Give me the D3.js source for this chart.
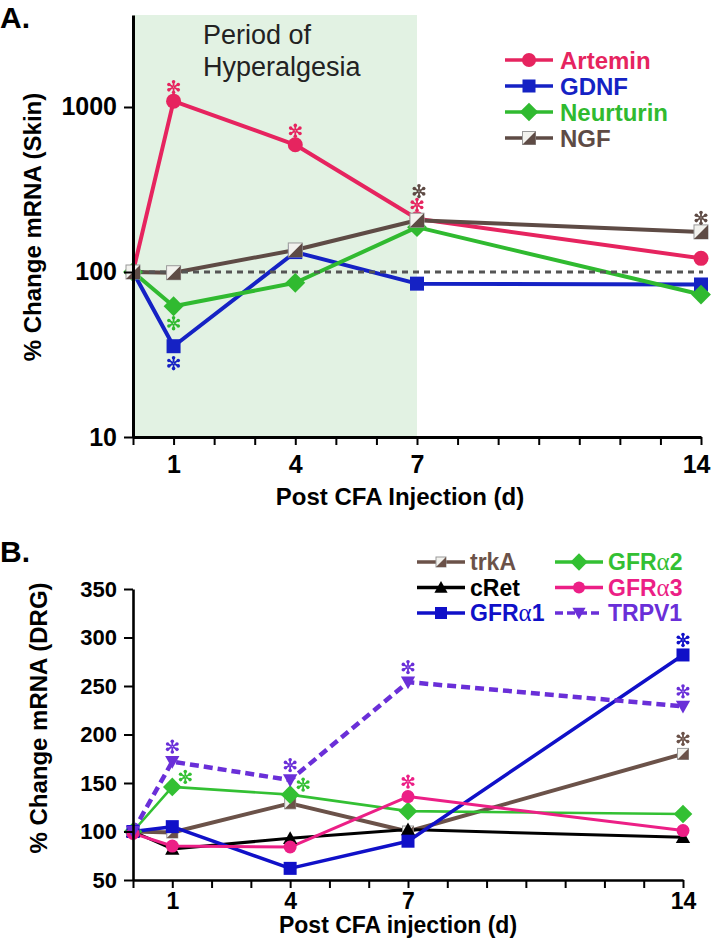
<!DOCTYPE html>
<html>
<head>
<meta charset="utf-8">
<script src="https://cdn.jsdelivr.net/npm/d3@7"></script>
<style>
  html, body { margin: 0; padding: 0; background: #fff; }
  svg { display: block; font-family: "Liberation Sans", Arial, Helvetica, sans-serif; }
</style>
</head>
<body>
<svg id="chart" width="714" height="939"></svg>
<script>
// ---------------- DATA ----------------
const days = [0, 1, 4, 7, 14];
const dayTicks = [0,1,2,3,4,5,6,7,8,9,10,11,12,13,14];
const dayLabels = [1, 4, 7, 14];

// Panel A: % change mRNA (skin), log scale
const artemin   = [100, 1085, 590, 210, 121];
const gdnf      = [100, 35.5, 132, 85, 84];
const neurturin = [100, 62, 86, 187, 73];
const ngf       = [100, 99, 136, 206, 175];
const yTicksA   = [10, 100, 1000];

// Panel B: % change mRNA (DRG)
const trkA  = [100, 99, 129, 100, 180];
const cRet  = [100, 82, 93, 102, 94];
const gfra1 = [100, 105, 62, 90, 282];
const gfra2 = [100, 146, 138, 121, 118];
const gfra3 = [98, 85, 84, 136, 101];
const trpv1 = [100, 172, 153, 254, 229];
const yTicksB = [50, 100, 150, 200, 250, 300, 350];

// Significance markers: [series, day, side]
const sigA = [
  ["Artemin", 1, "above"], ["Artemin", 4, "above"], ["Artemin", 7, "above"],
  ["NGF", 7, "above2"], ["NGF", 14, "above"],
  ["Neurturin", 1, "below"], ["GDNF", 1, "below"]
];
const sigB = [
  ["TRPV1", 1, "above"], ["TRPV1", 4, "above"], ["TRPV1", 7, "above"], ["TRPV1", 14, "above"],
  ["GFRα2", 1, "right"], ["GFRα2", 4, "right"],
  ["GFRα3", 7, "above"], ["GFRα1", 14, "above"], ["trkA", 14, "above"]
];

// ---------------- SETUP ----------------
const svg = d3.select("#chart");
const FONT = '"Liberation Sans", Arial, Helvetica, sans-serif';

const seriesA = [
  { name: "Artemin",   values: artemin,   color: "#e6245f", shape: "circle",  width: 4 },
  { name: "GDNF",      values: gdnf,      color: "#1522c4", shape: "square",  width: 4 },
  { name: "Neurturin", values: neurturin, color: "#30ba30", shape: "diamond", width: 4 },
  { name: "NGF",       values: ngf,       color: "#5e4b45", shape: "half",    width: 4 }
];
const seriesB = [
  { name: "trkA",  values: trkA,  color: "#6b5249", shape: "half",     width: 4 },
  { name: "cRet",  values: cRet,  color: "#000000", shape: "triangle", width: 3 },
  { name: "GFRα2", values: gfra2, color: "#33c033", shape: "diamond",  width: 2.6 },
  { name: "GFRα1", values: gfra1, color: "#1010c8", shape: "square",   width: 3.5 },
  { name: "GFRα3", values: gfra3, color: "#ec1f86", shape: "circle",   width: 3 },
  { name: "TRPV1", values: trpv1, color: "#6a2fd8", shape: "tridown",  width: 4.5, dash: "9,5" }
];

function drawMarker(g, shape, cx, cy, s, color) {
  if (shape === "circle") {
    g.append("circle").attr("cx", cx).attr("cy", cy).attr("r", s / 2).attr("fill", color);
  } else if (shape === "square") {
    g.append("rect").attr("x", cx - s / 2).attr("y", cy - s / 2).attr("width", s).attr("height", s).attr("fill", color);
  } else if (shape === "diamond") {
    const h = s * 0.62;
    g.append("path").attr("d", `M${cx},${cy - h}L${cx + h},${cy}L${cx},${cy + h}L${cx - h},${cy}Z`).attr("fill", color);
  } else if (shape === "triangle") {
    const h = s * 0.55;
    g.append("path").attr("d", `M${cx},${cy - h}L${cx + h},${cy + h * 0.8}L${cx - h},${cy + h * 0.8}Z`).attr("fill", color);
  } else if (shape === "tridown") {
    const h = s * 0.55;
    g.append("path").attr("d", `M${cx - h},${cy - h * 0.8}L${cx + h},${cy - h * 0.8}L${cx},${cy + h}Z`).attr("fill", color);
  } else if (shape === "half") {
    const h = s / 2;
    g.append("rect").attr("x", cx - h).attr("y", cy - h).attr("width", s).attr("height", s)
      .attr("fill", "#f2f2ee").attr("stroke", "#9a9a9a").attr("stroke-width", 1);
    g.append("path").attr("d", `M${cx + h},${cy - h}L${cx + h},${cy + h}L${cx - h},${cy + h}Z`).attr("fill", color);
  }
}

function drawAsterisk(g, cx, cy, color) {
  const r = 7.2, r0 = 1.3;
  [90, 30, 150].forEach(a => {
    const rad = a * Math.PI / 180;
    [1, -1].forEach(sgn => {
      const dx = Math.cos(rad) * sgn, dy = -Math.sin(rad) * sgn;
      g.append("line")
        .attr("x1", cx + dx * r0).attr("y1", cy + dy * r0)
        .attr("x2", cx + dx * (r - 1.8)).attr("y2", cy + dy * (r - 1.8))
        .attr("stroke", color).attr("stroke-width", 1.8).attr("stroke-linecap", "round");
      g.append("circle").attr("cx", cx + dx * (r - 1.8)).attr("cy", cy + dy * (r - 1.8))
        .attr("r", 1.8).attr("fill", color);
    });
  });
}

function styleAxis(g, domainWidth, fontSize) {
  g.select(".domain").attr("stroke", "#000").attr("stroke-width", domainWidth);
  g.selectAll(".tick line").attr("stroke", "#000").attr("stroke-width", 2);
  g.selectAll(".tick text").attr("fill", "#000").attr("font-size", fontSize)
    .attr("font-weight", "bold").attr("font-family", FONT);
}

// ================= PANEL A =================
const xA = d3.scaleLinear().domain([0, 14]).range([133, 701]);
const yA = d3.scaleLog().domain([10, 3610]).range([437, 15]);

svg.append("rect")
  .attr("x", xA(0)).attr("y", yA(3610))
  .attr("width", xA(7) - xA(0)).attr("height", yA(10) - yA(3610))
  .attr("fill", "#e2f2e3");

svg.append("text").attr("x", 203).attr("y", 44).attr("font-size", 27).attr("fill", "#222")
  .attr("font-family", FONT).text("Period of");
svg.append("text").attr("x", 203).attr("y", 76).attr("font-size", 27).attr("fill", "#222")
  .attr("font-family", FONT).text("Hyperalgesia");

const gLinesA = svg.append("g");
const lineA = d3.line().x((d, i) => xA(days[i])).y(d => yA(d));
seriesA.forEach(s => {
  gLinesA.append("path").datum(s.values).attr("d", lineA)
    .attr("fill", "none").attr("stroke", s.color).attr("stroke-width", s.width)
    .attr("stroke-linejoin", "round");
});

// reference line at 100%
svg.append("line")
  .attr("x1", xA(0) - 6).attr("x2", xA(14) + 2)
  .attr("y1", yA(100)).attr("y2", yA(100))
  .attr("stroke", "#555").attr("stroke-width", 3).attr("stroke-dasharray", "6,5");

const gMarkA = svg.append("g");
const sizeA = { circle: 15, square: 14, diamond: 16, half: 14 };
seriesA.forEach(s => {
  s.values.forEach((v, i) => drawMarker(gMarkA, s.shape, xA(days[i]), yA(v), sizeA[s.shape], s.color));
});

const gSigA = svg.append("g");
sigA.forEach(([name, day, side]) => {
  const s = seriesA.find(t => t.name === name);
  const i = days.indexOf(day);
  const cx = xA(day), cy = yA(s.values[i]);
  const dy = side === "above" ? -14 : side === "above2" ? -29 : 17;
  drawAsterisk(gSigA, cx + (side === "above2" ? 2 : 0), cy + dy, s.color);
});

// axes A
const axA_x = svg.append("g").attr("transform", `translate(0,${yA(10)})`)
  .call(d3.axisBottom(xA).tickValues(dayTicks).tickSize(8).tickSizeOuter(0).tickPadding(10)
    .tickFormat(d => dayLabels.includes(d) ? d : ""));
styleAxis(axA_x, 3, 25);
axA_x.selectAll(".tick text").filter(d => d === 14).attr("text-anchor", "end").attr("dx", "0.36em");
const axA_y = svg.append("g").attr("transform", `translate(${xA(0)},0)`)
  .call(d3.axisLeft(yA).tickValues(yTicksA).tickSize(9).tickSizeOuter(0).tickPadding(7)
    .tickFormat(d3.format("d")));
styleAxis(axA_y, 3, 25);

svg.append("text").attr("x", 400).attr("y", 505).attr("text-anchor", "middle")
  .attr("font-size", 24).attr("font-weight", "bold").attr("font-family", FONT)
  .text("Post CFA Injection (d)");
svg.append("text").attr("transform", "translate(41,227) rotate(-90)").attr("text-anchor", "middle")
  .attr("font-size", 24).attr("font-weight", "bold").attr("font-family", FONT)
  .text("% Change mRNA (Skin)");
svg.append("text").attr("x", 0).attr("y", 28).attr("font-size", 30).attr("font-weight", "bold")
  .attr("font-family", FONT).text("A.");

// legend A
const legA = svg.append("g");
seriesA.forEach((s, k) => {
  const y = 60 + k * 26;
  legA.append("line").attr("x1", 505).attr("x2", 553).attr("y1", y).attr("y2", y)
    .attr("stroke", s.color).attr("stroke-width", 3.5);
  drawMarker(legA, s.shape, 529, y, sizeA[s.shape] - 1, s.color);
  legA.append("text").attr("x", 560).attr("y", y).attr("dy", "0.36em")
    .attr("font-size", 24).attr("font-weight", "bold").attr("font-family", FONT)
    .attr("fill", s.color).text(s.name);
});

// ================= PANEL B =================
const xB = d3.scaleLinear().domain([0, 14]).range([133, 683]);
const yB = d3.scaleLinear().domain([50, 350]).range([880, 589]);

const lineB = d3.line().x((d, i) => xB(days[i])).y(d => yB(d));
const gLinesB = svg.append("g");
seriesB.forEach(s => {
  gLinesB.append("path").datum(s.values).attr("d", lineB)
    .attr("fill", "none").attr("stroke", s.color).attr("stroke-width", s.width)
    .attr("stroke-linejoin", "round")
    .attr("stroke-dasharray", s.dash || null);
});
const gMarkB = svg.append("g");
const sizeB = { circle: 13, square: 13, diamond: 15, half: 11, triangle: 13, tridown: 13 };
seriesB.forEach(s => {
  s.values.forEach((v, i) => drawMarker(gMarkB, s.shape, xB(days[i]), yB(v), sizeB[s.shape], s.color));
});

const gSigB = svg.append("g");
sigB.forEach(([name, day, side]) => {
  const s = seriesB.find(t => t.name === name);
  const i = days.indexOf(day);
  const cx = xB(day), cy = yB(s.values[i]);
  if (side === "right") drawAsterisk(gSigB, cx + 13, cy - 10, s.color);
  else drawAsterisk(gSigB, cx, cy - 15, s.color);
});

const axB_x = svg.append("g").attr("transform", `translate(0,${yB(50)})`)
  .call(d3.axisBottom(xB).tickValues(dayTicks).tickSize(8).tickSizeOuter(0).tickPadding(5)
    .tickFormat(d => dayLabels.includes(d) ? d : ""));
styleAxis(axB_x, 2.6, 23);
const axB_y = svg.append("g").attr("transform", `translate(${xB(0)},0)`)
  .call(d3.axisLeft(yB).tickValues(yTicksB).tickSize(9).tickSizeOuter(0).tickPadding(7));
styleAxis(axB_y, 2.6, 22);

svg.append("text").attr("x", 398).attr("y", 933).attr("text-anchor", "middle")
  .attr("font-size", 23).attr("font-weight", "bold").attr("font-family", FONT)
  .text("Post CFA injection (d)");
svg.append("text").attr("transform", "translate(47,718) rotate(-90)").attr("text-anchor", "middle")
  .attr("font-size", 24).attr("font-weight", "bold").attr("font-family", FONT)
  .text("% Change mRNA (DRG)");
svg.append("text").attr("x", 0).attr("y", 562).attr("font-size", 30).attr("font-weight", "bold")
  .attr("font-family", FONT).text("B.");

// legend B (two columns)
const legOrder = [["trkA", 0, 0], ["cRet", 0, 1], ["GFRα1", 0, 2], ["GFRα2", 1, 0], ["GFRα3", 1, 1], ["TRPV1", 1, 2]];
const legB = svg.append("g");
legOrder.forEach(([name, col, row]) => {
  const s = seriesB.find(t => t.name === name);
  const x0 = col === 0 ? 417 : 555;
  const y = 562 + row * 25.5;
  legB.append("line").attr("x1", x0).attr("x2", x0 + 48).attr("y1", y).attr("y2", y)
    .attr("stroke", s.color).attr("stroke-width", 3.5).attr("stroke-dasharray", s.dash ? "8,4" : null);
  drawMarker(legB, s.shape, x0 + 24, y, sizeB[s.shape] - 1, s.color);
  const t = legB.append("text").attr("x", x0 + 53).attr("y", y).attr("dy", "0.36em")
    .attr("font-size", 23).attr("font-weight", "bold").attr("font-family", FONT)
    .attr("fill", s.color);
  if (name.includes("α")) {
    const parts = name.split("α");
    t.append("tspan").text(parts[0]);
    t.append("tspan").attr("font-family", '"Liberation Serif", "DejaVu Serif", serif')
      .attr("font-weight", "normal").attr("font-size", 25).text("α");
    t.append("tspan").text(parts[1]);
  } else {
    t.text(name);
  }
});
</script>
</body>
</html>
